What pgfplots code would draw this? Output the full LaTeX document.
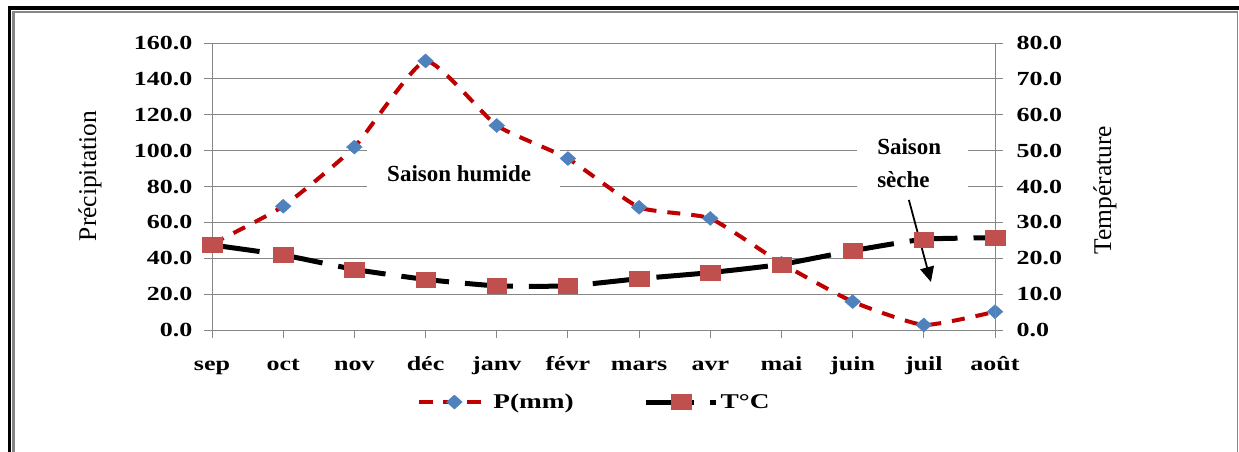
\documentclass[border=0pt]{standalone}
\usepackage{pgfplots}
\pgfplotsset{compat=1.18}
\usepackage{pgfplotstable}
\usetikzlibrary{arrows.meta}
\usepackage{fontspec}
\setmainfont{Liberation Serif}
\newfontfamily\widefont{Liberation Serif}[FakeStretch=1.3]
\definecolor{pred}{HTML}{C00000}
\definecolor{pblue}{HTML}{4F81BD}
\definecolor{tred}{HTML}{C0504D}
\definecolor{gridgray}{HTML}{868686}

\pgfplotstableread{
m P
0 48
1 69
2 102
3 150
4 114
5 95.6
6 68.4
7 62.2
8 37.2
9 15.8
10 2.8
11 10.2
}\Ptab
\pgfplotstableread{
m T
0 23.7
1 20.9
2 16.9
3 14.1
4 12.3
5 12.3
6 14.3
7 16.0
8 18.3
9 22.1
10 25.3
11 25.7
}\Ttab

\pgfplotsset{
  Pstyle/.style={pred, line width=4pt, dash pattern=on 13pt off 11pt, smooth, tension=0.3,
    mark=diamond*, mark size=7pt,
    mark options={solid, fill=pblue, draw=pblue, line width=0.4pt, xscale=1.5}},
  Tstyle/.style={black, line width=5pt, dash pattern=on 48pt off 16pt, smooth, tension=0.3,
    mark=square*, mark size=7.5pt,
    mark options={solid, fill=tred, draw=tred, line width=0.4pt, xscale=1.3}},
  common/.style={
    width=783pt, height=287pt, scale only axis, at={(212pt,121pt)}, anchor=south west,
    xmin=0, xmax=11, clip=false,
    axis line style={gridgray, line width=1pt},
    tick style={gridgray, line width=1pt},
    tick align=outside, major tick length=8pt,
    xtick={0,...,11},
    xticklabels={sep,oct,nov,déc,janv,févr,mars,avr,mai,juin,juil,août},
    ticklabel style={font=\widefont\bfseries\fontsize{20}{24}\selectfont},
    yticklabel style={/pgf/number format/.cd, fixed, fixed zerofill, precision=1, assume math mode=true, /tikz/.cd},
    xticklabel style={anchor=base, yshift=-32pt},
  }
}

\begin{document}
\begin{tikzpicture}[x=1pt,y=1pt]
\path[use as bounding box] (0,0) rectangle (1239,451);
\draw[black, line width=3.5pt] (9.5,-20) -- (9.5,443) -- (1260,443);
\draw[gridgray, line width=3pt] (13.5,-20) -- (13.5,439);
\draw[gridgray, line width=2pt] (12,439) -- (1237.8,439);
\draw[gridgray, line width=1.2pt] (1237.8,439) -- (1237.8,-20);

\begin{axis}[common,
  ymin=0, ymax=160, ytick={0,20,...,160},
  ymajorgrids, grid style={gridgray, line width=1pt},
  axis x line*=bottom, axis y line*=left,
  yticklabel style={xshift=-8pt},
]
\fill[white] (axis cs:2.18,69.7) rectangle (axis cs:4.89,103.1);
\fill[white] (axis cs:9.06,69.7) rectangle (axis cs:10.62,111.5);
\addplot[Pstyle] table[x=m,y=P]{\Ptab};
\node[anchor=base west, inner sep=0pt, font=\bfseries\fontsize{23}{27}\selectfont] at (axis cs:2.459,82.7) {Saison humide};
\node[anchor=base west, inner sep=0pt, font=\bfseries\fontsize{23}{27}\selectfont] at (axis cs:9.343,97.6) {Saison};
\node[anchor=base west, inner sep=0pt, font=\bfseries\fontsize{23}{27}\selectfont] at (axis cs:9.343,79.7) {sèche};
\end{axis}

\begin{axis}[common,
  ymin=0, ymax=80, ytick={0,10,...,80},
  axis y line*=right, axis x line=none,
  yticklabel style={xshift=10pt},
  legend style={at={(0.4885,-0.251)}, anchor=center, draw=none, fill=none,
    legend columns=2, font=\widefont\bfseries\fontsize{21}{25}\selectfont,
    /tikz/every even column/.append style={column sep=68pt}},
  legend image code/.code={\draw[mark repeat=2,mark phase=2,#1] plot coordinates {(0pt,0pt) (35pt,0pt) (70pt,0pt)};},
]
\addlegendimage{Pstyle}
\addlegendentry{P(mm)}
\addplot[Tstyle] table[x=m,y=T]{\Ttab};
\addlegendentry{T°C}
\draw[black, line width=1.8pt, -{Triangle[length=15pt,width=14pt]}] (axis cs:9.79,36.25) -- (axis cs:10.10,13.4);
\end{axis}

\node[rotate=90, font=\fontsize{25.5}{30}\selectfont] at (90,275) {Précipitation};
\node[rotate=90, font=\fontsize{25.5}{30}\selectfont] at (1105,261) {Température};
\end{tikzpicture}
\end{document}
